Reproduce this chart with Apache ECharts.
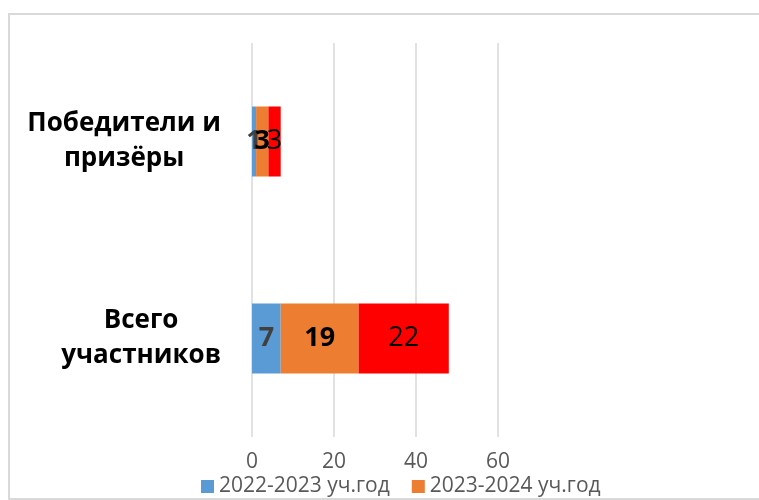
<!DOCTYPE html>
<html><head><meta charset="utf-8">
<script src="https://cdn.jsdelivr.net/npm/echarts@6/dist/echarts.min.js"></script>
<style>html,body{margin:0;padding:0;background:#fff}#c{width:759px;height:500px}</style>
</head><body><div id="c"></div>
<script>
const categories = ['Всего\nучастников', 'Победители и\nпризёры'];
const seriesNames = ['2022-2023 уч.год', '2023-2024 уч.год', '2024-2025 уч.год'];
const values2022 = [7, 1];
const values2023 = [19, 3];
const values2024 = [22, 3];
const xTicks = [0, 20, 40, 60];

const FONT = '"Open Sans", "Noto Sans", sans-serif';
const chart = echarts.init(document.getElementById('c'));
function lbl(color, weight){
  return {show:true, position:'inside', color:color, fontWeight:weight, fontSize:27, fontFamily:FONT};
}
chart.setOption({
  animation:false,
  graphic:[{type:'rect', shape:{x:9,y:14,width:760,height:485}, style:{fill:'none', stroke:'#d9d9d9', lineWidth:2}, silent:true}],
  grid:{left:252, right:261, top:43, bottom:63, containLabel:false},
  legend:{data:[seriesNames[0], seriesNames[1]], left:196, top:471, itemWidth:13, itemHeight:13, itemGap:22,
    icon:'rect', textStyle:{fontSize:21, color:'#595959', fontFamily:FONT}},
  xAxis:{type:'value', min:xTicks[0], max:xTicks[xTicks.length-1], interval:20,
    axisLine:{show:false}, axisTick:{show:false},
    splitLine:{lineStyle:{color:'#d9d9d9', width:1.5}},
    axisLabel:{fontSize:21, color:'#595959', margin:15, fontFamily:FONT}},
  yAxis:{type:'category', data:categories, axisLine:{show:false}, axisTick:{show:false},
    axisLabel:{margin:31, align:'right',
      formatter:function(v){return v.split('\n').map(s=>'{b|'+s+'}').join('\n');},
      rich:{b:{align:'center', fontSize:26, fontWeight:'bold', color:'#000', fontFamily:FONT, lineHeight:35}}}},
  series:[
    {name:seriesNames[0], type:'bar', stack:'s', data:values2022, barWidth:70, itemStyle:{color:'#5b9bd5'}, label:lbl('#404040','bold')},
    {name:seriesNames[1], type:'bar', stack:'s', data:values2023, barWidth:70, itemStyle:{color:'#ed7d31'}, label:lbl('#000','bold')},
    {name:seriesNames[2], type:'bar', stack:'s', data:values2024, barWidth:70, itemStyle:{color:'#ff0000'}, label:lbl('#000','normal')}
  ]
});
</script></body></html>
